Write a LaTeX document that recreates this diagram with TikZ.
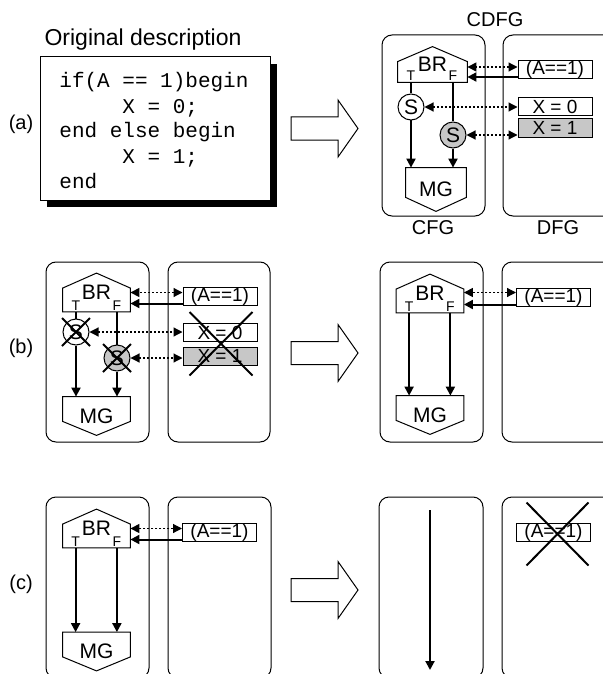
\documentclass[tikz,border=0pt]{standalone}
\usepackage{fontspec}
\setmainfont{Liberation Sans}
\setmonofont{Liberation Mono}
\usetikzlibrary{arrows.meta,calc,positioning,shadows}
\definecolor{cellgray}{gray}{0.78}

\tikzset{
  panel/.style={draw,rounded corners=5pt,line width=0.5pt},
  outline/.style={draw,line width=0.5pt,line join=miter},
  house/.style={minimum width=33.5pt,minimum height=19pt,inner sep=0pt,font=\fontsize{10.5}{12}\selectfont},
  expr/.style={draw,line width=0.5pt,minimum width=37pt,minimum height=9pt,inner sep=0pt,font=\fontsize{9.5}{10}\selectfont},
  sel/.style={draw,circle,line width=0.5pt,minimum size=13pt,inner sep=0pt,font=\fontsize{10.5}{12}\selectfont},
  tf/.style={anchor=south,inner sep=0.6pt,font=\fontsize{7}{8}\selectfont},
  tag/.style={inner sep=0pt,font=\fontsize{10}{12}\selectfont},
  codebox/.style={draw,fill=white,line width=0.5pt,minimum width=115pt,minimum height=71.5pt,
    drop shadow={shadow xshift=3.5pt,shadow yshift=-3.5pt,fill=black,opacity=1}},
  codeline/.style={anchor=base west,inner sep=0pt,font=\ttfamily\fontsize{10.5}{12.5}\selectfont},
  flow/.style={line width=1pt},
  flowarrow/.style={line width=1pt,-{Triangle[length=4.5pt,width=4.5pt]}},
  link/.style={line width=0.6pt,dash pattern=on 1pt off 1pt,
    {Triangle[length=4.5pt,width=4.5pt]}-{Triangle[length=4.5pt,width=4.5pt]}},
  strike/.style={line width=1pt}
}

\begin{document}
\begin{tikzpicture}[x=0.5pt,y=-0.5pt]
  \useasboundingbox (0,0) rectangle (603,674);
  \clip (0,0) rectangle (603,674);

  % panel frames
  \draw[panel] (382,35) rectangle (485,216);
  \draw[panel] (503,35) rectangle (625,216);
  \draw[panel] (46,262) rectangle (149,442);
  \draw[panel] (168,262) rectangle (270,442);
  \draw[panel] (380,262) rectangle (483,442);
  \draw[panel] (502,262) rectangle (625,442);
  \draw[panel] (46,497) rectangle (149,678);
  \draw[panel] (168,497) rectangle (271,678);
  \draw[panel] (379,497) rectangle (483,678);
  \draw[panel] (502,497) rectangle (625,678);

  % hollow arrows
  \foreach \y in {128.5,353,590}
    \draw[outline] (291,\y-11.5) -- (338,\y-11.5) -- (338,\y-28.5) -- (358,\y)
      -- (338,\y+28.5) -- (338,\y+11.5) -- (291,\y+11.5) -- cycle;

  % captions
  \node[tag] (taga) at (21,124) {(a)};
  \node[tag] (tagb) at (21,348) {(b)};
  \node[tag] (tagc) at (21,584) {(c)};
  \node[tag,font=\fontsize{11.5}{13}\selectfont] (orig) at (143,40) {Original description};
  \node[tag] (cdfg) at (495,20) {CDFG};
  \node[tag] (cfg) at (433,228) {CFG};
  \node[tag] (dfg) at (558,228) {DFG};

  % source code
  \node[codebox] (code) at (155,128.5) {};
  \foreach \t [count=\i] in {{if(A == 1)begin},{\phantom{xxxxx}X = 0;},{end else begin},{\phantom{xxxxx}X = 1;},{end}}
    \node[codeline] (code\i) at (59,63+25*\i) {\t};

  % (a) CDFG
  \node[house,minimum width=34.5pt,minimum height=17.5pt] (bra) at (432.5,64.5) {BR};
  \node[house,minimum width=30pt,minimum height=21.5pt] (mga) at (436,189.5) {MG};
  \node[sel] (sta) at (411,107) {S};
  \node[sel,fill=cellgray] (sfa) at (453,135) {S};
  \node[tf] (brat) at (bra.south -| sta) {T};
  \node[tf] (braf) at (bra.south -| sfa) {F};
  \node[expr] (conda) at (555,70) {(A==1)};
  \node[expr] (xza) at (555,106.5) {X = 0};
  \node[expr,fill=cellgray] (xoa) at (555,128) {X = 1};
  \draw[flow] (brat.south) -- (sta);
  \draw[flowarrow] (sta) -- (sta |- mga.north);
  \draw[flow] (braf.south) -- (sfa);
  \draw[flowarrow] (sfa) -- (sfa |- mga.north);
  \draw[link] ([yshift=1.5pt]conda.west) -- ([yshift=1.5pt]conda.west -| bra.east);
  \draw[flowarrow] ([yshift=-3.5pt]conda.west) -- ([yshift=-3.5pt]conda.west -| bra.east);
  \draw[link] (sta.east) -- (sta.east -| xza.west);
  \draw[link] (sfa.east) -- (sfa.east -| xoa.west);

  % (b) before
  \node[house] (brb) at (96.5,292.5) {BR};
  \node[house] (mgb) at (96.5,416) {MG};
  \node[sel] (stb) at (76,332) {S};
  \node[sel,fill=cellgray] (sfb) at (117,358) {S};
  \node[tf] (brbt) at (brb.south -| stb) {T};
  \node[tf] (brbf) at (brb.south -| sfb) {F};
  \node[expr] (condb) at (220,296.5) {(A==1)};
  \node[expr] (xzb) at (220,332.5) {X = 0};
  \node[expr,fill=cellgray] (xob) at (220,356) {X = 1};
  \draw[flow] (brbt.south) -- (stb);
  \draw[flowarrow] (stb) -- (stb |- mgb.north);
  \draw[flow] (brbf.south) -- (sfb);
  \draw[flowarrow] (sfb) -- (sfb |- mgb.north);
  \draw[link] ([yshift=2pt]condb.west) -- ([yshift=2pt]condb.west -| brb.east);
  \draw[flowarrow] ([yshift=-3.5pt]condb.west) -- ([yshift=-3.5pt]condb.west -| brb.east);
  \draw[link] (stb.east) -- (stb.east -| xzb.west);
  \draw[link] (sfb.east) -- (sfb.east -| xob.west);
  \foreach \n in {stb,sfb}
    \draw[strike] ($(\n)+(-14,-14)$) -- ($(\n)+(14,14)$) ($(\n)+(-14,14)$) -- ($(\n)+(14,-14)$);
  \draw[strike] ($(xzb.north west)+(7,-11)$) -- ($(xob.south east)+(-5,10)$)
                ($(xzb.north east)+(-5,-11)$) -- ($(xob.south west)+(7,10)$);

  % (b) after
  \node[house] (brc) at (430,293.5) {BR};
  \node[house] (mgc) at (430,415) {MG};
  \node[tf] (brct) at ($(brc.south west)+(13,0)$) {T};
  \node[tf] (brcf) at ($(brc.south east)+(-13.5,0)$) {F};
  \node[expr] (condc) at (553.5,297.5) {(A==1)};
  \draw[flowarrow] (brct.south) -- (brct.south |- mgc.north);
  \draw[flowarrow] (brcf.south) -- (brcf.south |- mgc.north);
  \draw[link] ([yshift=2.5pt]condc.west) -- ([yshift=2.5pt]condc.west -| brc.east);
  \draw[flowarrow] ([yshift=-3.5pt]condc.west) -- ([yshift=-3.5pt]condc.west -| brc.east);

  % (c) before
  \node[house] (brd) at (96.5,528.5) {BR};
  \node[house] (mgd) at (96.5,651.5) {MG};
  \node[tf] (brdt) at ($(brd.south west)+(13,0)$) {T};
  \node[tf] (brdf) at ($(brd.south east)+(-13.5,0)$) {F};
  \node[expr] (condd) at (219.5,532.5) {(A==1)};
  \draw[flowarrow] (brdt.south) -- (brdt.south |- mgd.north);
  \draw[flowarrow] (brdf.south) -- (brdf.south |- mgd.north);
  \draw[link] ([yshift=2pt]condd.west) -- ([yshift=2pt]condd.west -| brd.east);
  \draw[flowarrow] ([yshift=-3.5pt]condd.west) -- ([yshift=-3.5pt]condd.west -| brd.east);

  % (c) after
  \coordinate (flowtop) at (430,510);
  \coordinate (flowend) at (430,670);
  \draw[flowarrow] (flowtop) -- (flowend);
  \node[expr] (conde) at (553.5,532.5) {(A==1)};
  \draw[strike] ($(conde.north west)+(10.5,-20.5)$) -- ($(conde.south east)+(-2.5,23.5)$)
                ($(conde.north east)+(-2.5,-20.5)$) -- ($(conde.south west)+(10.5,23.5)$);

  % house outlines
  \foreach \n in {bra,brb,brc,brd}
    \draw[outline] (\n.south west) -- ($(\n.north west)+(0,15)$) -- (\n.north)
      -- ($(\n.north east)+(0,15)$) -- (\n.south east) -- cycle;
  \foreach \n in {mga,mgb,mgc,mgd}
    \draw[outline] (\n.north west) -- ($(\n.south west)+(0,-14)$) -- (\n.south)
      -- ($(\n.south east)+(0,-14)$) -- (\n.north east) -- cycle;
\end{tikzpicture}
\end{document}
